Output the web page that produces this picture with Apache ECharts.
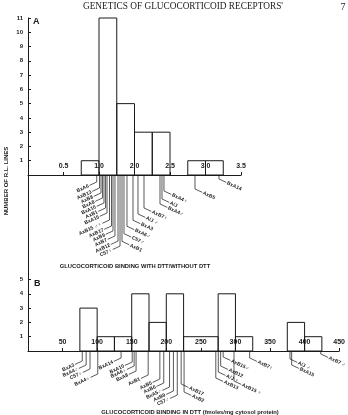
<!DOCTYPE html>
<html>
<head>
<meta charset="utf-8">
<script src="https://cdn.jsdelivr.net/npm/echarts@6/dist/echarts.min.js"></script>
<style>
  html, body { margin: 0; padding: 0; background: #fff; }
  #chart { width: 348px; height: 415px; }
</style>
</head>
<body>
<div id="chart"></div>
<script>
// panel A: binding with DTT / without DTT (axis positions, labels as printed)
var ticksA = [0.5, 1, 1.5, 2, 2.5, 3];
var tickLabelsA = ['0.5', '1.0', '2.0', '2.5', '3.0', '3.5'];
var binStartA = [0.75, 1.0, 1.25, 1.5, 1.75, 2.25, 2.5];
var binEndA   = [1.0, 1.25, 1.5, 1.75, 2.0, 2.5, 2.75];
var countA    = [1, 11, 5, 3, 3, 1, 1];

// panel B: binding in DTT (fmoles/mg cytosol protein)
var ticksB = [50, 100, 150, 200, 250, 300, 350, 400, 450];
var tickLabelsB = ['50', '100', '150', '200', '250', '300', '350', '400', '450'];
var binStartB = [75, 100, 125, 150, 175, 200, 225, 275, 300, 375, 400];
var binEndB   = [100, 125, 150, 175, 200, 225, 275, 300, 325, 400, 425];
var countB    = [3, 1, 1, 4, 2, 4, 1, 4, 1, 2, 1];

// strain labels: value on x, depth of the leader below the axis, side of the label
var strainsA = ['BxA6', 'AxB13', 'AxB8', 'BxA8', 'BxA10', 'AxB1', 'BxA15', 'AxB15 ♂♀', 'AxB17', 'AxB9', 'AxB7', 'AxB12', 'C57♀',
                'AxB1', 'C57♂', 'BxA6♂', 'BxA3', 'A/J ♂', 'AxB7♀', 'BxA4♂', 'A/J', 'BxA4♀', 'AxB5', 'BxA14'];
var strainXA = [0.968, 1.007, 1.028, 1.049, 1.070, 1.092, 1.113, 1.148, 1.176, 1.197, 1.225, 1.268, 1.296,
                1.324, 1.352, 1.394, 1.479, 1.549, 1.634, 1.859, 1.887, 1.915, 2.352, 2.690];
var strainDepthA = [-0.49, -0.91, -1.26, -1.61, -1.96, -2.31, -2.66, -3.15, -3.57, -3.92, -4.27, -4.63, -4.98,
                    -4.65, -4.11, -3.59, -3.17, -2.73, -2.31, -2.03, -1.68, -1.12, -0.98, -0.28];
var strainSideA = ['L', 'L', 'L', 'L', 'L', 'L', 'L', 'L', 'L', 'L', 'L', 'L', 'L',
                   'R', 'R', 'R', 'R', 'R', 'R', 'R', 'R', 'R', 'R', 'R'];

var strainsB = ['BxA3', 'BxA4♂', 'C57♀', 'BxA4♀', 'BxA14', 'BxA10', 'BxA6♀', 'BxA8', 'AxB1', 'AxB5', 'AxB6', 'BxA5♂', 'AxB9', 'C57♂',
                'AxB17', 'AxB2', 'AxB13', 'A/J ♀', 'AxB12', 'AxB15♂', 'AxB15 ♀', 'AxB7♀', 'A/J ♂', 'BxA15', 'AxB7 ♂'];
var strainXB = [78.5, 84.1, 89.7, 100.9, 134.6, 150.7, 153.5, 156.3, 173.8, 190.7, 196.3, 204.7, 210.3, 215.9,
                221.5, 225.7, 271.6, 275.2, 278.6, 282.2, 297.9, 320.6, 378.9, 381.3, 423.4];
var strainDepthB = [-0.70, -0.98, -1.26, -1.61, -0.49, -0.77, -1.05, -1.40, -1.68, -1.96, -2.24, -2.52, -2.80, -3.08,
                    -2.31, -2.87, -1.89, -1.47, -1.05, -0.42, -2.10, -0.49, -0.56, -0.98, -0.21];
var strainSideB = ['L', 'L', 'L', 'L', 'L', 'L', 'L', 'L', 'L', 'L', 'L', 'L', 'L', 'L',
                   'R', 'R', 'R', 'R', 'R', 'R', 'R', 'R', 'R', 'R', 'R'];

var INK = '#1a1a1a';
var SANS = '"Liberation Sans", "DejaVu Sans", sans-serif';
var LABEL_FONT = 'bold 5px ' + SANS;
var ANG = 25 * Math.PI / 180;

// open boxes so the axis numbers stay readable through them
function renderBin(params, api) {
  var p0 = api.coord([api.value(0), api.value(2)]);
  var p1 = api.coord([api.value(1), 0]);
  return {
    type: 'rect',
    shape: { x: p0[0], y: p0[1], width: p1[0] - p0[0], height: p1[1] - p0[1] },
    style: { fill: 'none', stroke: INK, lineWidth: 1 }
  };
}

// leader: straight down from the axis, then a slanted dash to the rotated name
function leaderRenderer(names, sides) {
  return function (params, api) {
    var i = params.dataIndex;
    var x = api.value(0), d = api.value(1);
    var p0 = api.coord([x, 0]);
    var p1 = api.coord([x, d]);
    var s = sides[i] === 'L' ? -1 : 1;
    var p2 = [p1[0] + s * 8 * Math.cos(ANG), p1[1] + 8 * Math.sin(ANG)];
    var tp = [p1[0] + s * 9 * Math.cos(ANG), p1[1] + 9 * Math.sin(ANG)];
    return {
      type: 'group',
      children: [
        { type: 'polyline', shape: { points: [p0, p1, p2] },
          style: { stroke: '#111', lineWidth: 0.7, fill: null } },
        { type: 'text', x: tp[0], y: tp[1], rotation: s < 0 ? ANG : -ANG,
          style: { text: names[i], textAlign: s < 0 ? 'right' : 'left', textVerticalAlign: 'middle',
                   font: LABEL_FONT, fill: '#1a1a1a' } }
      ]
    };
  };
}

function xAxisOf(grid, max, ticks, labels) {
  return {
    gridIndex: grid, type: 'value', min: 0, max: max,
    axisLine: { onZero: false, lineStyle: { color: INK, width: 1 } },
    axisTick: { inside: true, length: 3, customValues: ticks, lineStyle: { color: INK, width: 1 } },
    axisLabel: { inside: true, customValues: ticks, margin: 5, color: INK,
                 fontSize: 7, fontWeight: 'bold', fontFamily: SANS,
                 formatter: function (v) { return labels[ticks.indexOf(v)]; } },
    splitLine: { show: false }
  };
}

function yAxisOf(grid, max, ticks) {
  return {
    gridIndex: grid, type: 'value', min: 0, max: max,
    axisLine: { show: true, lineStyle: { color: INK, width: 1 } },
    axisTick: { show: true, inside: true, length: 3, customValues: ticks, lineStyle: { color: INK, width: 1 } },
    axisLabel: { customValues: ticks, margin: 5, color: INK, fontSize: 6, fontWeight: 'bold', fontFamily: SANS },
    splitLine: { show: false }
  };
}

var yTicksA = [1, 2, 3, 4, 5, 6, 7, 8, 9, 10, 11];
var yTicksB = [1, 2, 3, 4, 5];

var chart = echarts.init(document.getElementById('chart'), null, { renderer: 'canvas' });
chart.setOption({
  animation: false,
  backgroundColor: '#fff',
  grid: [
    { left: 28, top: 18, width: 213, height: 157 },
    // B's axis reaches up to A's baseline so the vertical line is continuous
    { left: 28, top: 175, width: 321, height: 176 }
  ],
  xAxis: [
    xAxisOf(0, 3, ticksA, tickLabelsA),
    xAxisOf(1, 450, ticksB, tickLabelsB)
  ],
  yAxis: [
    yAxisOf(0, 11, yTicksA),
    yAxisOf(1, 12.31, yTicksB)
  ],
  series: [
    { type: 'custom', xAxisIndex: 0, yAxisIndex: 0, renderItem: renderBin,
      data: binStartA.map(function (s, i) { return [s, binEndA[i], countA[i]]; }) },
    { type: 'custom', xAxisIndex: 1, yAxisIndex: 1, renderItem: renderBin,
      data: binStartB.map(function (s, i) { return [s, binEndB[i], countB[i]]; }) },
    { type: 'custom', xAxisIndex: 0, yAxisIndex: 0, renderItem: leaderRenderer(strainsA, strainSideA),
      data: strainXA.map(function (x, i) { return [x, strainDepthA[i]]; }) },
    { type: 'custom', xAxisIndex: 1, yAxisIndex: 1, renderItem: leaderRenderer(strainsB, strainSideB),
      data: strainXB.map(function (x, i) { return [x, strainDepthB[i]]; }) }
  ],
  graphic: [
    { type: 'text', x: 183, y: 7,
      style: { text: "GENETICS OF GLUCOCORTICOID RECEPTORS'", textAlign: 'center', textVerticalAlign: 'middle',
               font: '9.3px "Liberation Serif", "DejaVu Serif", serif', fill: '#222' } },
    { type: 'text', x: 343, y: 7,
      style: { text: '7', textAlign: 'center', textVerticalAlign: 'middle',
               font: '10px "Liberation Serif", "DejaVu Serif", serif', fill: '#222' } },
    { type: 'text', x: 33, y: 22,
      style: { text: 'A', textAlign: 'left', textVerticalAlign: 'middle', font: 'bold 9px ' + SANS, fill: INK } },
    { type: 'text', x: 34, y: 284,
      style: { text: 'B', textAlign: 'left', textVerticalAlign: 'middle', font: 'bold 9px ' + SANS, fill: INK } },
    { type: 'text', x: 6, y: 181, rotation: Math.PI / 2,
      style: { text: 'NUMBER OF R.L. LINES', textAlign: 'center', textVerticalAlign: 'middle',
               font: 'bold 6px ' + SANS, fill: INK } },
    { type: 'text', x: 135, y: 266,
      style: { text: 'GLUCOCORTICOID BINDING WITH DTT/WITHOUT DTT', textAlign: 'center', textVerticalAlign: 'middle',
               font: 'bold 5.8px ' + SANS, fill: INK } },
    { type: 'text', x: 190, y: 412.5,
      style: { text: 'GLUCOCORTICOID BINDING IN DTT (fmoles/mg cytosol protein)', textAlign: 'center', textVerticalAlign: 'middle',
               font: 'bold 5.8px ' + SANS, fill: INK } }
  ]
});
</script>
</body>
</html>
